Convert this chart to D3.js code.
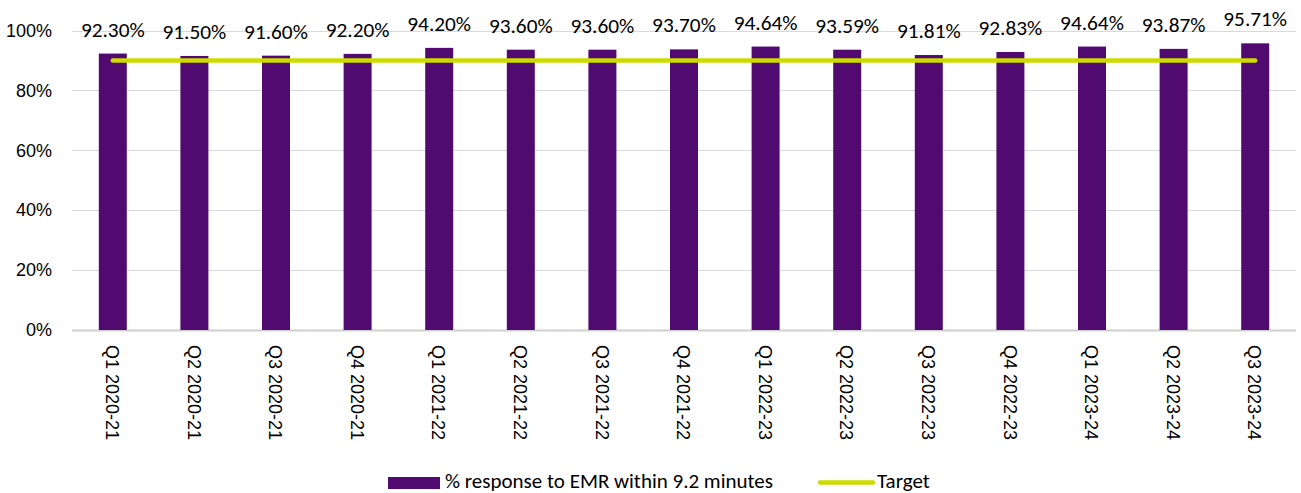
<!DOCTYPE html>
<html>
<head>
<meta charset="utf-8">
<script src="https://cdn.jsdelivr.net/npm/d3@7"></script>
<style>
  body { margin: 0; background: #fff; }
  svg { display: block; }
</style>
</head>
<body>
<div id="chart"></div>
<script>
const quarters = ['Q1 2020-21', 'Q2 2020-21', 'Q3 2020-21', 'Q4 2020-21',
    'Q1 2021-22', 'Q2 2021-22', 'Q3 2021-22', 'Q4 2021-22',
    'Q1 2022-23', 'Q2 2022-23', 'Q3 2022-23', 'Q4 2022-23',
    'Q1 2023-24', 'Q2 2023-24', 'Q3 2023-24'];
const responseRate = [92.30, 91.50, 91.60, 92.20, 94.20, 93.60, 93.60, 93.70,
    94.64, 93.59, 91.81, 92.83, 94.64, 93.87, 95.71];
const target = [90, 90, 90, 90, 90, 90, 90, 90, 90, 90, 90, 90, 90, 90, 90];
const yTicks = [0, 20, 40, 60, 80, 100];
const seriesNames = ['% response to EMR within 9.2 minutes', 'Target'];

const width = 1301, height = 493;
const margin = { top: 30.5, right: 5, bottom: 163, left: 72 };
const barColor = '#500a70';
const lineColor = '#cddc00';
const labelFont = 'Carlito, Lato, sans-serif';
const axisFont = '"Liberation Sans", Arial, sans-serif';

const svg = d3.select('#chart').append('svg')
    .attr('width', width)
    .attr('height', height);

const x = d3.scaleBand()
    .domain(quarters)
    .range([margin.left, width - margin.right])
    .paddingInner(0.657)
    .paddingOuter(0.3285);

const y = d3.scaleLinear()
    .domain([0, 100])
    .range([height - margin.bottom, margin.top]);

// gridlines
svg.append('g')
    .selectAll('line')
    .data(yTicks)
    .join('line')
    .attr('x1', margin.left)
    .attr('x2', width - margin.right)
    .attr('y1', d => Math.round(y(d)) + 0.5)
    .attr('y2', d => Math.round(y(d)) + 0.5)
    .attr('stroke', d => d === 0 ? '#d0d0d0' : '#d9d9d9')
    .attr('stroke-width', d => d === 0 ? 2 : 1);

// y axis labels
const yAxis = svg.append('g')
    .attr('transform', `translate(${margin.left},0)`)
    .call(d3.axisLeft(y).tickValues(yTicks).tickFormat(d => d + '%').tickSize(0).tickPadding(20));
yAxis.select('.domain').remove();
yAxis.selectAll('text')
    .attr('font-family', axisFont)
    .attr('font-size', 18)
    .attr('fill', '#000');

// bars
svg.append('g')
    .selectAll('rect')
    .data(responseRate)
    .join('rect')
    .attr('x', (d, i) => x(quarters[i]))
    .attr('width', x.bandwidth())
    .attr('y', d => y(d))
    .attr('height', d => y(0) - y(d))
    .attr('fill', barColor);

// target line
const line = d3.line()
    .x((d, i) => x(quarters[i]) + x.bandwidth() / 2)
    .y(d => y(d));

svg.append('path')
    .datum(target)
    .attr('fill', 'none')
    .attr('stroke', lineColor)
    .attr('stroke-width', 4.5)
    .attr('stroke-linecap', 'round')
    .attr('d', line);

// data labels
svg.append('g')
    .selectAll('text')
    .data(responseRate)
    .join('text')
    .attr('x', (d, i) => x(quarters[i]) + x.bandwidth() / 2)
    .attr('y', d => y(d) - 17)
    .attr('text-anchor', 'middle')
    .attr('font-family', labelFont)
    .attr('font-size', 21.3)
    .attr('fill', '#000')
    .text(d => d.toFixed(2) + '%');

// x axis labels (rotated)
svg.append('g')
    .selectAll('text')
    .data(quarters)
    .join('text')
    .attr('transform', d => `translate(${x(d) + x.bandwidth() / 2 - 2},${y(0) + 15}) rotate(90)`)
    .attr('dominant-baseline', 'middle')
    .attr('text-anchor', 'start')
    .attr('font-family', axisFont)
    .attr('font-size', 18)
    .attr('fill', '#000')
    .text(d => d);

// legend
const legend = svg.append('g').attr('transform', 'translate(388,483)');
legend.append('rect')
    .attr('x', 0).attr('y', -6)
    .attr('width', 52).attr('height', 12)
    .attr('fill', barColor);
legend.append('text')
    .attr('x', 57).attr('y', 5)
    .attr('font-family', labelFont)
    .attr('font-size', 21)
    .text(seriesNames[0]);
legend.append('line')
    .attr('x1', 432).attr('x2', 485)
    .attr('y1', -0.5).attr('y2', -0.5)
    .attr('stroke', lineColor)
    .attr('stroke-width', 4.5)
    .attr('stroke-linecap', 'round');
legend.append('text')
    .attr('x', 489).attr('y', 5)
    .attr('font-family', labelFont)
    .attr('font-size', 21)
    .text(seriesNames[1]);
</script>
</body>
</html>
